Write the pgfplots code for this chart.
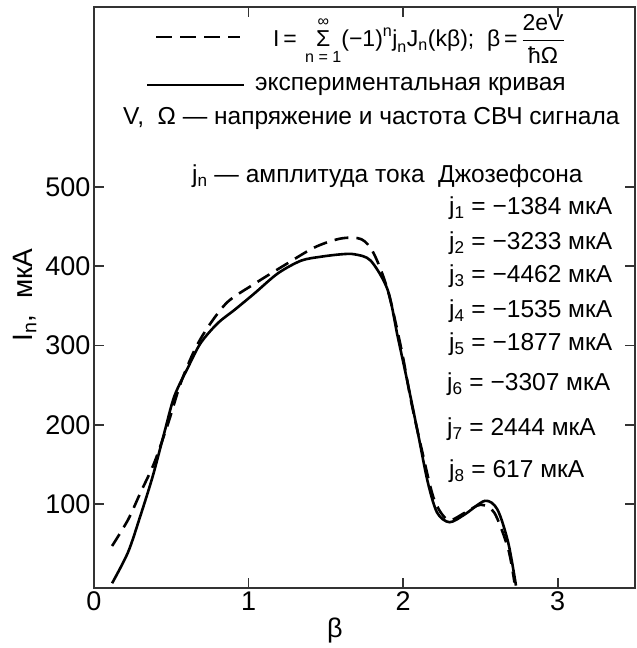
\documentclass[border=0pt]{standalone}
\usepackage{fontspec}
\setmainfont{Liberation Sans}
\usepackage{amsmath}
\usepackage{pgfplots}
\pgfplotsset{compat=1.18}
\newcommand{\tx}[1]{\text{#1}}
\begin{document}
\begin{tikzpicture}
\begin{axis}[
  at={(0,0)}, anchor=south west,
  scale only axis, width=541bp, height=581bp,
  xmin=0, xmax=3.5, ymin=-6, ymax=727,
  xtick={0,1,2,3}, ytick={100,200,300,400,500},
  tick align=inside, major tick length=10bp,
  axis line style={line width=1.6bp, black!80},
  tick style={line width=1.6bp, black!80},
  /pgf/number format/assume math mode=true,
  tick label style={font=\fontsize{27bp}{31bp}\selectfont},
  clip=true,
]
\addplot[black, line width=2.6bp, smooth, tension=0.5] coordinates {
(0.117,0) (0.22,39) (0.30,85) (0.38,135) (0.455,190) (0.52,236) (0.61,273) (0.69,303) (0.80,328) (0.91,345) (1.04,366) (1.19,391) (1.34,407) (1.47,412) (1.60,415) (1.685,415) (1.79,407) (1.90,370) (1.965,311) (2.03,252) (2.095,190) (2.16,127) (2.22,89) (2.30,77) (2.40,87) (2.53,104) (2.61,93) (2.68,51) (2.73,-3)
};
\addplot[black, line width=2.6bp, dash pattern=on 14bp off 8bp, smooth, tension=0.5] coordinates {
(0.117,47) (0.22,80) (0.30,114) (0.39,152) (0.48,202) (0.56,252) (0.65,294) (0.74,324) (0.865,355) (1.04,378) (1.23,401) (1.43,424) (1.60,435) (1.73,434) (1.81,416) (1.90,370) (1.99,294) (2.05,231) (2.12,169) (2.20,106) (2.29,80) (2.40,89) (2.50,99) (2.59,89) (2.68,43) (2.72,1)
};
\end{axis}
% legend samples and annotations (bp relative to axis lower-left corner)
\draw[black, line width=2.6bp, dash pattern=on 16bp off 8bp] (62bp,551bp) -- (146bp,551bp);
\draw[black, line width=2.6bp] (53bp,503bp) -- (150bp,503bp);
\begin{scope}[every node/.style={inner sep=0pt, font=\fontsize{24.5bp}{28bp}\selectfont}]
\node[anchor=base west, font=\fontsize{23bp}{26bp}\selectfont] at (179bp,541bp) {$\tx{I\,=}\,\mathop{\tx{Σ}}\limits_{\tx{n = 1}}^{\tx{∞}}\!\tx{(−1)}^{\tx{n}}\tx{j}_{\tx{n}}\tx{J}_{\tx{n}}\tx{(kβ);\ \ β\,=\,}\dfrac{\tx{2eV}}{\tx{ħΩ}}$};
\node[anchor=base west] at (161bp,497bp) {экспериментальная кривая};
\node[anchor=base west] at (29bp,463bp) {V,\ \ Ω — напряжение и частота СВЧ сигнала};
\node[anchor=base west] at (98bp,405bp) {j$_{\tx{n}}$ — амплитуда тока\ \ Джозефсона};
\node[anchor=base west] at (355bp,373bp) {j$_{\tx{1}}$ = −1384 мкА};
\node[anchor=base west] at (355bp,338bp) {j$_{\tx{2}}$ = −3233 мкА};
\node[anchor=base west] at (355bp,305bp) {j$_{\tx{3}}$ = −4462 мкА};
\node[anchor=base west] at (355bp,270bp) {j$_{\tx{4}}$ = −1535 мкА};
\node[anchor=base west] at (355bp,237bp) {j$_{\tx{5}}$ = −1877 мкА};
\node[anchor=base west] at (353bp,197bp) {j$_{\tx{6}}$\ = −3307 мкА};
\node[anchor=base west] at (353bp,152bp) {j$_{\tx{7}}$\ = 2444 мкА};
\node[anchor=base west] at (355bp,110bp) {j$_{\tx{8}}$ = 617 мкА};
\node[rotate=90, font=\fontsize{28bp}{32bp}\selectfont] at (-69bp,293bp) {I$_{\tx{n}}$,\ \ мкА};
\node[font=\fontsize{27bp}{31bp}\selectfont] at (241bp,-43bp) {β};
\end{scope}
\pgfresetboundingbox
\useasboundingbox (-94bp,-60bp) rectangle (543bp,588bp);
\end{tikzpicture}
\end{document}
